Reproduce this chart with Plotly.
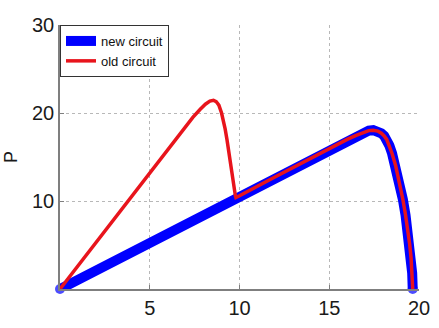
import plotly.graph_objects as go

# New circuit (blue)
new_x = [0, 2, 4, 6, 8, 10, 12, 14, 15, 16, 16.5, 16.9, 17.2, 17.45, 17.7, 17.9, 18.06, 18.2, 18.35, 18.5,
         18.7, 18.9, 19.1, 19.25, 19.38, 19.48, 19.56, 19.62, 19.65]
new_y = [0, 2.1, 4.25, 6.4, 8.5, 10.6, 12.75, 14.9, 16.0, 17.0, 17.45, 17.8, 18.0, 18.05, 17.95, 17.7, 17.4, 17.0, 16.3, 15.4,
         14.0, 12.3, 10.2, 8.4, 6.7, 5.1, 3.5, 1.8, 0]

# Old circuit (red)
old_x = [0, 2, 4, 6, 7.0, 7.4, 7.8, 8.1, 8.35, 8.55, 8.7, 8.85, 9.0, 9.1, 9.2, 9.3, 9.42, 9.52, 9.59, 9.68, 9.77, 9.8,
         10, 12, 14, 15, 16, 16.5, 16.9, 17.2, 17.45, 17.7, 17.9, 18.06, 18.2, 18.35, 18.5,
         18.7, 18.9, 19.1, 19.25, 19.38, 19.48, 19.56, 19.62, 19.65]
old_y = [0, 5.3, 10.6, 15.9, 18.5, 19.5, 20.4, 21.0, 21.35, 21.45, 21.3, 20.9, 20.0, 19.2, 18.2, 17.0, 15.4, 13.9, 12.5, 11.4, 10.6, 10.4,
         10.6, 12.75, 14.9, 16.0, 17.0, 17.45, 17.8, 18.0, 18.05, 17.95, 17.7, 17.4, 17.0, 16.3, 15.4,
         14.0, 12.3, 10.2, 8.4, 6.7, 5.1, 3.5, 1.8, 0]

x_ticks = [5, 10, 15, 20]
y_ticks = [10, 20, 30]

FONT = "Liberation Sans Narrow, Arial Narrow, Liberation Sans, Arial, sans-serif"

end_sizes_new = [10] + [0] * (len(new_x) - 2) + [10]

fig = go.Figure()
fig.add_trace(go.Scatter(
    x=new_x, y=new_y, name="new circuit", mode="lines+markers",
    line=dict(color="#0000ff", width=10),
    marker=dict(color="#0000ff", size=end_sizes_new, line=dict(width=0)),
    cliponaxis=False,
))
fig.add_trace(go.Scatter(
    x=old_x, y=old_y, name="old circuit", mode="lines",
    line=dict(color="#e8141c", width=3.5),
))

fig.update_layout(
    width=439, height=328,
    margin=dict(l=52, r=9, t=25, b=31),
    paper_bgcolor="white", plot_bgcolor="white",
    font=dict(family=FONT, color="#1a1a1a"),
    showlegend=True,
    legend=dict(
        x=0, y=1, xanchor="left", yanchor="top",
        bgcolor="white", bordercolor="#333333", borderwidth=1,
        font=dict(family=FONT, size=13, color="#111111"),
        itemwidth=30, tracegroupgap=0,
    ),
    xaxis=dict(
        range=[0, 20], tickvals=x_ticks, ticktext=[str(v) for v in x_ticks],
        showgrid=True, gridcolor="#b8b8b8", griddash="dot", gridwidth=1,
        zeroline=False, showline=True, linecolor="#7f7f7f", linewidth=1.5,
        ticks="inside", ticklen=4, tickcolor="#7f7f7f",
        tickfont=dict(family=FONT, size=20, color="#1a1a1a"),
        ticklabeloverflow="allow",
        mirror=False,
    ),
    yaxis=dict(
        range=[0, 30], tickvals=y_ticks, ticktext=[str(v) for v in y_ticks],
        showgrid=True, gridcolor="#b8b8b8", griddash="dot", gridwidth=1,
        zeroline=False, showline=True, linecolor="#7f7f7f", linewidth=1.5,
        ticks="inside", ticklen=4, tickcolor="#7f7f7f",
        tickfont=dict(family=FONT, size=20, color="#1a1a1a"),
        ticklabeloverflow="allow",
        title=dict(text="P", font=dict(family=FONT, size=18, color="#1a1a1a"), standoff=10),
        mirror=False,
    ),
)

fig.write_html("out.html")
